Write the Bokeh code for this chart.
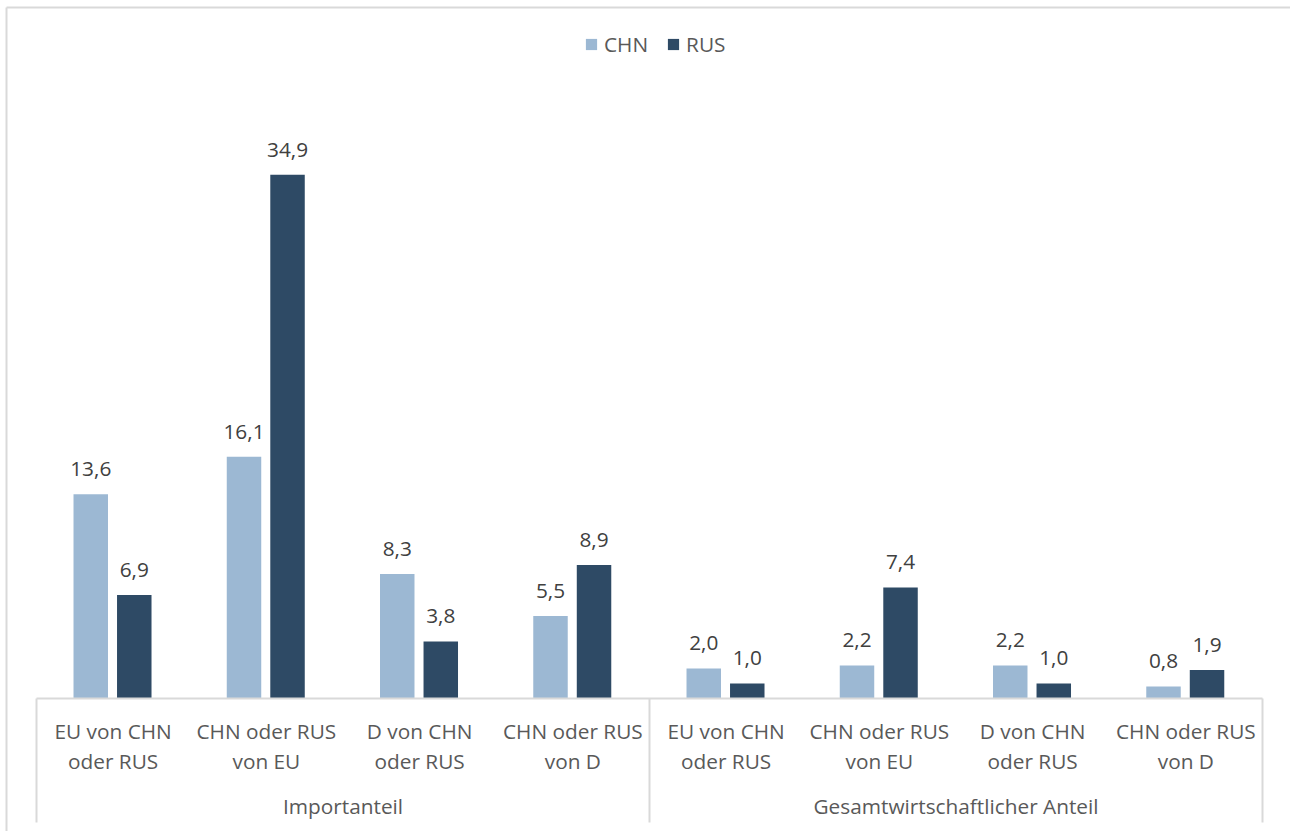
from bokeh.plotting import figure
from bokeh.models import Range1d, Legend, LegendItem, ColumnDataSource
from bokeh.core.properties import value
from bokeh.embed import file_html
from bokeh.resources import INLINE

# --- data -----------------------------------------------------------------
groups = ["Importanteil", "Gesamtwirtschaftlicher Anteil"]
categories = [
    "EU von CHN\noder RUS",
    "CHN oder RUS\nvon EU",
    "D von CHN\noder RUS",
    "CHN oder RUS\nvon D",
    "EU von CHN\noder RUS",
    "CHN oder RUS\nvon EU",
    "D von CHN\noder RUS",
    "CHN oder RUS\nvon D",
]
series = ["CHN", "RUS"]
chn = [13.6, 16.1, 8.3, 5.5, 2.0, 2.2, 2.2, 0.8]
rus = [6.9, 34.9, 3.8, 8.9, 1.0, 7.4, 1.0, 1.9]

# --- styling ----------------------------------------------------------------
colors = ["#9CB8D3", "#2E4A65"]
FONT = "Open Sans"
FS = "20.8px"
LABEL_COLOR = "#404040"
AXIS_TEXT = "#595959"
RULE = "#D9D9D9"

W, H = 1290, 831
PX_X = 153.25          # pixels per category
PX_Y = 15.01           # pixels per percentage point
LEFT, BASE = 36, 698   # pixel position of the category axis origin
n = len(categories)

x_range = Range1d(-LEFT / PX_X, (W - LEFT) / PX_X)
y_range = Range1d(-(H - BASE) / PX_Y, BASE / PX_Y)

p = figure(width=W, height=H, x_range=x_range, y_range=y_range,
           x_axis_type=None, y_axis_type=None,
           output_backend="svg", toolbar_location=None, min_border=0)
p.grid.visible = False
p.outline_line_color = None
p.background_fill_color = "white"
p.border_fill_color = "white"

# chart area border (left and top edges)
x_border = (6 - LEFT) / PX_X
y_border = (BASE - 7) / PX_Y
p.segment(x0=[x_border, x_border], y0=[y_border, y_border],
          x1=[x_border, x_range.end], y1=[y_range.start, y_border],
          line_color=RULE, line_width=2)

# bars
centre = [i + 0.496 for i in range(n)]
offset, bar_w = 0.142, 0.225
renderers = []
for vals, col, sign in [(chn, colors[0], -1), (rus, colors[1], 1)]:
    xs = [c + sign * offset for c in centre]
    src = ColumnDataSource(dict(x=xs, top=vals,
                                lbl=[f"{v:.1f}".replace(".", ",") for v in vals],
                                ly=[v + 25 / PX_Y for v in vals]))
    r = p.vbar(x="x", top="top", bottom=0, width=bar_w, source=src,
               fill_color=col, line_color=None)
    renderers.append(r)
    p.text(x="x", y="ly", text="lbl", source=src,
           text_font=value(FONT), text_font_size=FS, text_color=LABEL_COLOR,
           text_align="center", text_baseline="middle")

# category axis line and group separators
p.segment(x0=[0], y0=[0], x1=[n], y1=[0], line_color=RULE, line_width=2)
sep_bottom = -(822 - BASE) / PX_Y
half = n // 2
p.segment(x0=[0, half, n], y0=[0, 0, 0], x1=[0, half, n],
          y1=[sep_bottom] * 3, line_color=RULE, line_width=2)

# category labels (two lines each)
line1 = [c.split("\n")[0] for c in categories]
line2 = [c.split("\n")[1] for c in categories]
cx = [i + 0.5 for i in range(n)]
p.text(x=cx, y=[-(730 - BASE) / PX_Y] * n, text=line1,
       text_font=value(FONT), text_font_size=FS, text_color=AXIS_TEXT,
       text_align="center", text_baseline="middle")
p.text(x=cx, y=[-(760 - BASE) / PX_Y] * n, text=line2,
       text_font=value(FONT), text_font_size=FS, text_color=AXIS_TEXT,
       text_align="center", text_baseline="middle")

# group labels
p.text(x=[half / 2, half + half / 2], y=[-(805 - BASE) / PX_Y] * 2, text=groups,
       text_font=value(FONT), text_font_size=FS, text_color=AXIS_TEXT,
       text_align="center", text_baseline="middle")

# legend
legend = Legend(items=[LegendItem(label=s, renderers=[r]) for s, r in zip(series, renderers)],
                orientation="horizontal", location=(584, H - 58),
                glyph_width=14, glyph_height=14, label_standoff=6, spacing=18,
                padding=0, margin=0, border_line_color=None,
                background_fill_alpha=0,
                label_text_font=FONT, label_text_font_size=FS,
                label_text_color=AXIS_TEXT, label_height=20)
p.add_layout(legend, "center")

open("out.html", "w").write(file_html(p, INLINE))
